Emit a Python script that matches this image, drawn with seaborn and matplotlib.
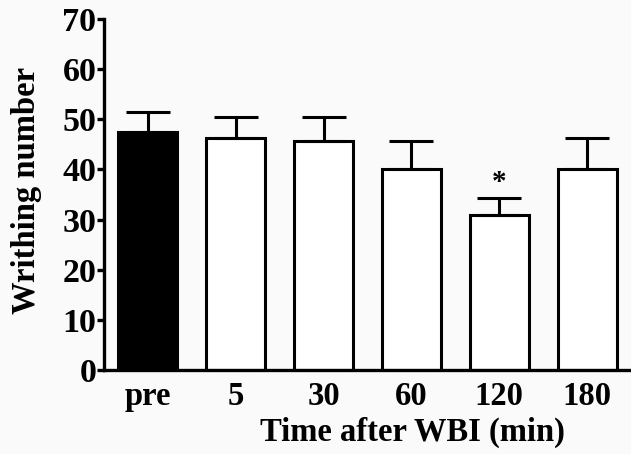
import matplotlib
matplotlib.use("Agg")
import matplotlib.pyplot as plt
import seaborn as sns
import pandas as pd
import numpy as np

### ---------------- DATA ---------------- ###
time_labels = ["pre", "5", "30", "60", "120", "180"]
writhing_mean = [47.4, 46.3, 45.7, 40.0, 30.9, 40.0]
writhing_sem = [4.0, 4.2, 4.8, 5.7, 3.5, 6.2]
significant = ["", "", "", "", "*", ""]
bar_colors = ["black", "white", "white", "white", "white", "white"]

df = pd.DataFrame({"Time": time_labels, "Writhing": writhing_mean})

### ---------------- PLOT ---------------- ###
sns.set_style("ticks", {"axes.edgecolor": "black", "text.color": "black",
                        "axes.labelcolor": "black", "xtick.color": "black",
                        "ytick.color": "black"})
plt.rcParams["font.family"] = ["Liberation Serif", "DejaVu Serif"]
plt.rcParams["font.weight"] = "bold"

fig = plt.figure(figsize=(6.31, 4.54), dpi=100, facecolor="#fafafa")
ax = fig.add_axes([104 / 631, 84 / 454, 1 - 104 / 631, (370 - 19) / 454])
ax.set_facecolor("#fafafa")

sns.barplot(data=df, x="Time", y="Writhing", hue="Time", palette=bar_colors,
            width=0.67, edgecolor="black", linewidth=2.2, legend=False, ax=ax,
            errorbar=None)

# upper-only error bars
x_pos = np.arange(len(time_labels))
ax.errorbar(x_pos, writhing_mean, yerr=[np.zeros(len(writhing_sem)), writhing_sem],
            fmt="none", ecolor="black", elinewidth=2.2, capsize=16, capthick=2.2)

for i, s in enumerate(significant):
    if s:
        ax.text(i, writhing_mean[i] + writhing_sem[i] + 3.0, s, ha="center", va="center",
                fontsize=21, fontweight="bold", color="black")

ax.set_xlim(-0.5, 5.5)
ax.set_ylim(0, 70)
ax.set_yticks(range(0, 71, 10))
sns.despine(ax=ax)
for sp in ["left", "bottom"]:
    ax.spines[sp].set_linewidth(2.4)
    ax.spines[sp].set_color("black")

ax.tick_params(axis="y", length=5, width=2.4, pad=0.5, labelsize=24.5, colors="black")
ax.tick_params(axis="x", length=0, pad=8, labelsize=23.5, colors="black")
for lab in ax.get_xticklabels() + ax.get_yticklabels():
    lab.set_fontweight("bold")

ax.set_xlabel("Time after WBI (min)", fontsize=23.5, fontweight="bold", color="black")
ax.set_ylabel("Writhing number", fontsize=23.5, fontweight="bold", color="black")
ax.xaxis.set_label_coords((412 - 104) / 527, -(432 - 370) / 351)
ax.yaxis.set_label_coords(-(104 - 27) / 527, (370 - 190) / 351)
ax.xaxis.label.set_va("center")
ax.yaxis.label.set_va("center")

fig.savefig("out.png", dpi=100, facecolor=fig.get_facecolor())
